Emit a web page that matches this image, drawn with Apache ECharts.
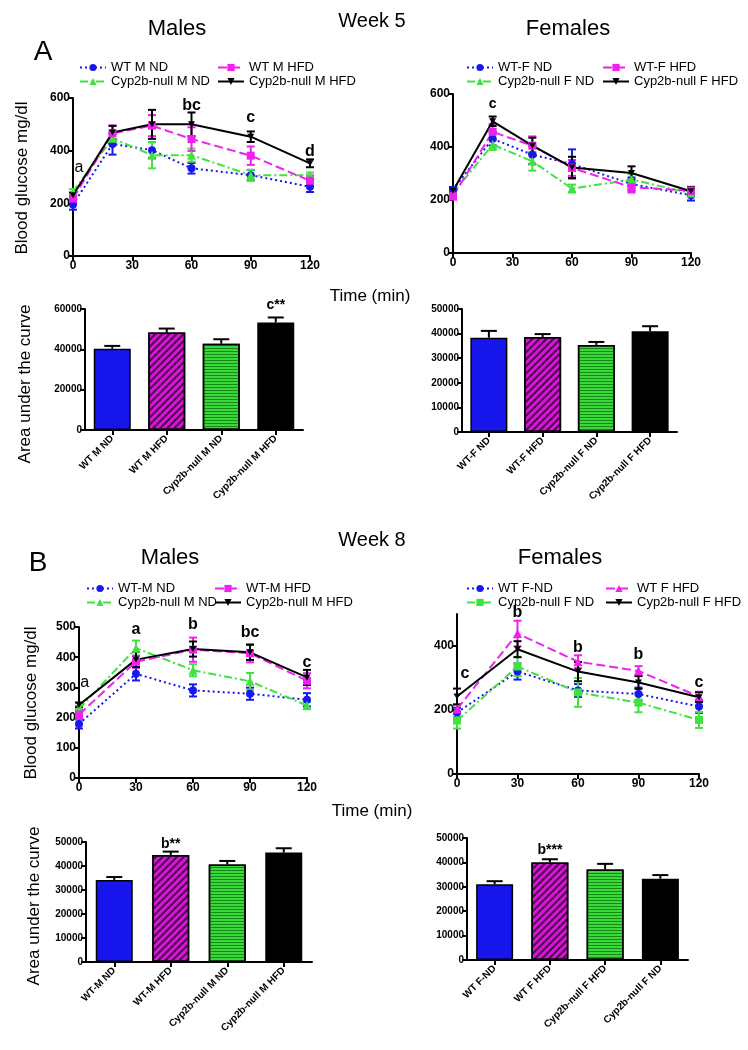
<!DOCTYPE html>
<html><head><meta charset="utf-8">
<script src="https://cdn.jsdelivr.net/npm/echarts@6/dist/echarts.min.js"></script>
<style>html,body{margin:0;padding:0;background:#fff}#c{width:748px;height:1050px}</style>
</head><body><div id="c"></div>
<script>
// ================= DATA =================
const timesW5 = [0, 20, 40, 60, 90, 120];
const timesW8 = [0, 30, 60, 90, 120];

// Week 5 males (legend labels)
const w5mLabels = ['WT M ND', 'Cyp2b-null M ND', 'WT M HFD', 'Cyp2b-null M HFD'];
const w5m_wtND = [196, 425, 402, 333, 307, 263];
const w5m_wtND_err = [20, 40, 30, 20, 20, 20];
const w5m_nullND = [244, 447, 383, 383, 307, 307];
const w5m_nullND_err = [10, 20, 50, 25, 20, 10];
const w5m_wtHFD = [218, 466, 495, 444, 381, 286];
const w5m_wtHFD_err = [15, 30, 40, 45, 35, 20];
const w5m_nullHFD = [231, 469, 500, 500, 453, 352];
const w5m_nullHFD_err = [10, 25, 55, 45, 20, 15];

// Week 5 females
const w5fLabels = ['WT-F ND', 'Cyp2b-null F ND', 'WT-F HFD', 'Cyp2b-null F HFD'];
const w5f_wtND = [239, 431, 371, 336, 260, 218];
const w5f_wtND_err = [10, 25, 35, 55, 25, 20];
const w5f_nullND = [226, 409, 346, 243, 277, 226];
const w5f_nullND_err = [10, 20, 35, 15, 20, 12];
const w5f_wtHFD = [214, 457, 405, 321, 248, 235];
const w5f_wtHFD_err = [12, 30, 35, 30, 20, 15];
const w5f_nullHFD = [235, 497, 405, 323, 302, 233];
const w5f_nullHFD_err = [10, 18, 30, 40, 25, 15];

// Week 8 males
const w8mLabels = ['WT-M ND', 'Cyp2b-null M ND', 'WT-M HFD', 'Cyp2b-null M HFD'];
const w8m_wtND = [179, 345, 290, 279, 259];
const w8m_wtND_err = [15, 22, 20, 20, 22];
const w8m_nullND = [229, 430, 357, 320, 240];
const w8m_nullND_err = [10, 25, 20, 28, 12];
const w8m_wtHFD = [210, 385, 425, 413, 322];
const w8m_wtHFD_err = [15, 20, 40, 30, 25];
const w8m_nullHFD = [242, 392, 427, 416, 333];
const w8m_nullHFD_err = [8, 25, 25, 25, 25];

// Week 8 females
const w8fLabels = ['WT F-ND', 'Cyp2b-null F ND', 'WT F HFD', 'Cyp2b-null F HFD'];
const w8f_wtND = [192, 320, 261, 250, 211];
const w8f_wtND_err = [15, 25, 20, 20, 20];
const w8f_nullND = [167, 336, 255, 223, 169];
const w8f_nullND_err = [25, 30, 45, 30, 25];
const w8f_wtHFD = [203, 439, 351, 322, 242];
const w8f_wtHFD_err = [15, 40, 20, 15, 15];
const w8f_nullHFD = [242, 390, 320, 286, 240];
const w8f_nullHFD_err = [25, 25, 30, 20, 15];

// Area under the curve
const aucW5mCats = ['WT M ND', 'WT M HFD', 'Cyp2b-null M ND', 'Cyp2b-null M HFD'];
const aucW5m = [40300, 48300, 42800, 53300];
const aucW5m_err = [1400, 2000, 2200, 2500];
const aucW5fCats = ['WT-F ND', 'WT-F HFD', 'Cyp2b-null F ND', 'Cyp2b-null F HFD'];
const aucW5f = [38300, 38600, 35400, 41000];
const aucW5f_err = [2800, 1200, 1200, 2000];
const aucW8mCats = ['WT-M ND', 'WT-M HFD', 'Cyp2b-null M ND', 'Cyp2b-null M HFD'];
const aucW8m = [34200, 44600, 40600, 45600];
const aucW8m_err = [1200, 1400, 1500, 1800];
const aucW8fCats = ['WT F-ND', 'WT F HFD', 'Cyp2b-null F HFD', 'Cyp2b-null F ND'];
const aucW8f = [31000, 40000, 37100, 33300];
const aucW8f_err = [1300, 1300, 2300, 1500];

// Significance letters: [x, y, text, bold]
const annW5m = [[3, 335, 'a', false], [60, 571, 'bc', true], [90, 525, 'c', true], [120, 396, 'd', true]];
const annW5f = [[20, 563, 'c', true]];
const annW8m = [[3, 315, 'a', false], [30, 491, 'a', true], [60, 508, 'b', true], [90, 481, 'bc', true], [120, 381, 'c', true]];
const annW8f = [[4, 313, 'c', true], [30, 504, 'b', true], [60, 395, 'b', true], [90, 373, 'b', true], [120, 285, 'c', true]];
const annAucW5m = [[3, 62000, 'c**', true]];
const annAucW8m = [[1, 49200, 'b**', true]];
const annAucW8f = [[1, 44900, 'b***', true]];

// ================= STYLE =================
const FF = '"Liberation Sans", Arial, sans-serif';
const BLUE = '#1818ee', GREEN = '#3fe23f', MAG = '#ee22ee', BLK = '#000000';
const INV_TRI = 'path://M0,0 L10,0 L5,9 Z';

const grids = [
  {left: 73, top: 98, width: 237, height: 158},   // 0 W5 M line
  {left: 453, top: 94, width: 238, height: 159},  // 1 W5 F line
  {left: 85, top: 309, width: 218, height: 121},  // 2 W5 M bar
  {left: 462, top: 309, width: 215, height: 123}, // 3 W5 F bar
  {left: 79, top: 627, width: 228, height: 151},  // 4 W8 M line
  {left: 457, top: 614, width: 242, height: 160}, // 5 W8 F line
  {left: 86, top: 842, width: 226, height: 120},  // 6 W8 M bar
  {left: 467, top: 838, width: 221, height: 122}  // 7 W8 F bar
];

const axisLineS = {show: true, onZero: false, lineStyle: {color: '#000', width: 2}};
const axisTickS = {show: true, length: 5, lineStyle: {color: '#000', width: 2}};

function valueX(gi) {
  return {type: 'value', gridIndex: gi, min: 0, max: 120, interval: 30,
    axisLine: axisLineS, axisTick: axisTickS, splitLine: {show: false},
    axisLabel: {fontFamily: FF, fontWeight: 'bold', fontSize: 12, color: '#000', margin: 4}};
}
function valueY(gi, max, interval, fs, custom) {
  const a = {type: 'value', gridIndex: gi, min: 0, max: max, interval: interval,
    axisLine: axisLineS, axisTick: Object.assign({}, axisTickS), splitLine: {show: false},
    axisLabel: {fontFamily: FF, fontWeight: 'bold', fontSize: fs, color: '#000', margin: 3, formatter: v => String(v)}};
  if (custom) { a.axisLabel.customValues = custom; a.axisTick.customValues = custom; }
  return a;
}
function catX(gi, cats) {
  return {type: 'category', gridIndex: gi, data: cats,
    axisLine: axisLineS, axisTick: Object.assign({alignWithLabel: true}, axisTickS),
    axisLabel: {fontFamily: FF, fontWeight: 'bold', fontSize: 10, color: '#000', rotate: 45, interval: 0, margin: 7}};
}

const series = [];

function errSeries(gi, pts, cap, upOnly) {
  series.push({
    type: 'custom', name: 'err' + gi + '_' + series.length, xAxisIndex: gi, yAxisIndex: gi,
    data: pts.map(p => [p[0], p[1], p[2]]), z: 3, silent: true,
    renderItem: (params, api) => {
      const x = api.value(0), v = api.value(1), e = api.value(2);
      const lo = api.coord([x, upOnly ? v : v - e]);
      const hi = api.coord([x, v + e]);
      const col = pts[params.dataIndex][3];
      const st = {stroke: col, lineWidth: 2};
      const ch = [{type: 'line', shape: {x1: hi[0], y1: lo[1], x2: hi[0], y2: hi[1]}, style: st},
                  {type: 'line', shape: {x1: hi[0] - cap, y1: hi[1], x2: hi[0] + cap, y2: hi[1]}, style: st}];
      if (!upOnly) ch.push({type: 'line', shape: {x1: lo[0] - cap, y1: lo[1], x2: lo[0] + cap, y2: lo[1]}, style: st});
      return {type: 'group', children: ch};
    }
  });
}

function lineGroup(gi, prefix, times, groups) {
  groups.forEach(g => {
    series.push({
      type: 'line', name: prefix + '|' + g.label, xAxisIndex: gi, yAxisIndex: gi,
      data: times.map((t, i) => [t, g.data[i]]),
      symbol: g.symbol, symbolSize: g.size, showSymbol: true,
      lineStyle: {color: g.color, width: 2, type: g.dash},
      itemStyle: {color: g.color}, z: 4, animation: false
    });
    errSeries(gi, times.map((t, i) => [t, g.data[i], g.err[i], g.color]), 4, false);
  });
}

function annSeries(gi, ann, size) {
  series.push({
    type: 'custom', name: 'ann' + gi, xAxisIndex: gi, yAxisIndex: gi, z: 6, silent: true,
    data: ann.map(a => [a[0], a[1]]),
    renderItem: (params, api) => {
      const p = api.coord([api.value(0), api.value(1)]);
      const a = ann[params.dataIndex];
      return {type: 'text', x: p[0], y: p[1], style: {
        text: a[2], fill: '#000', font: (a[3] ? 'bold ' : '') + size + 'px ' + FF,
        textAlign: 'center', textVerticalAlign: 'middle', align: 'center', verticalAlign: 'middle'}};
    }
  });
}

const barLook = [
  {color: '#1616ec'},
  {color: '#d814d8', decal: {symbol: 'rect', symbolSize: 1, color: '#4a064a', dashArrayX: [1, 0], dashArrayY: [2, 3], rotation: -Math.PI / 4}},
  {color: '#3ad83a', decal: {symbol: 'rect', symbolSize: 1, color: '#168a16', dashArrayX: [1, 0], dashArrayY: [1, 2], rotation: 0}},
  {color: '#000000'}
];

function barGroup(gi, vals, errs) {
  series.push({
    type: 'bar', name: 'bar' + gi, xAxisIndex: gi, yAxisIndex: gi, barWidth: 37, z: 2,
    data: vals.map((v, i) => ({value: v, itemStyle: Object.assign({borderColor: '#000', borderWidth: 1.5}, barLook[i])})),
    animation: false
  });
  errSeries(gi, vals.map((v, i) => [i, v, errs[i], '#000']), 8, true);
}

// line charts
function style4(labels, d, sym) {
  return [
    {label: labels[0], data: d[0], err: d[1], color: BLUE, dash: [2, 3], symbol: 'circle', size: 8},
    {label: labels[1], data: d[2], err: d[3], color: GREEN, dash: [8, 3, 2, 3], symbol: sym[0], size: sym[0] === 'rect' ? 8 : 9},
    {label: labels[2], data: d[4], err: d[5], color: MAG, dash: [9, 4], symbol: sym[1], size: sym[1] === 'rect' ? 8 : 9},
    {label: labels[3], data: d[6], err: d[7], color: BLK, dash: 'solid', symbol: INV_TRI, size: [7, 6]}
  ];
}
lineGroup(0, 'W5M', timesW5, style4(w5mLabels, [w5m_wtND, w5m_wtND_err, w5m_nullND, w5m_nullND_err, w5m_wtHFD, w5m_wtHFD_err, w5m_nullHFD, w5m_nullHFD_err], ['triangle', 'rect']));
lineGroup(1, 'W5F', timesW5, style4(w5fLabels, [w5f_wtND, w5f_wtND_err, w5f_nullND, w5f_nullND_err, w5f_wtHFD, w5f_wtHFD_err, w5f_nullHFD, w5f_nullHFD_err], ['triangle', 'rect']));
lineGroup(4, 'W8M', timesW8, style4(w8mLabels, [w8m_wtND, w8m_wtND_err, w8m_nullND, w8m_nullND_err, w8m_wtHFD, w8m_wtHFD_err, w8m_nullHFD, w8m_nullHFD_err], ['triangle', 'rect']));
lineGroup(5, 'W8F', timesW8, style4(w8fLabels, [w8f_wtND, w8f_wtND_err, w8f_nullND, w8f_nullND_err, w8f_wtHFD, w8f_wtHFD_err, w8f_nullHFD, w8f_nullHFD_err], ['rect', 'triangle']));

barGroup(2, aucW5m, aucW5m_err);
barGroup(3, aucW5f, aucW5f_err);
barGroup(6, aucW8m, aucW8m_err);
barGroup(7, aucW8f, aucW8f_err);

annSeries(0, annW5m, 16);
annSeries(1, annW5f, 14);
annSeries(4, annW8m, 16);
annSeries(5, annW8f, 16);
annSeries(2, annAucW5m, 14);
annSeries(6, annAucW8m, 14);
annSeries(7, annAucW8f, 14);

function legend(left, top, prefix, labels) {
  return {left: left, top: top, orient: 'vertical', itemGap: 1, itemWidth: 26, itemHeight: 9,
    selectedMode: false, data: labels.map(l => prefix + '|' + l),
    formatter: n => n.split('|')[1],
    textStyle: {fontFamily: FF, fontSize: 13, color: '#000', lineHeight: 12}};
}

function txt(x, y, s, size, rot) {
  return {type: 'text', x: x, y: y, rotation: rot || 0, silent: true, style: {
    text: s, fill: '#000', font: size + 'px ' + FF,
    textAlign: 'center', textVerticalAlign: 'middle', align: 'center', verticalAlign: 'middle'}};
}

const option = {
  animation: false,
  backgroundColor: '#fff',
  grid: grids,
  xAxis: [valueX(0), valueX(1), catX(2, aucW5mCats), catX(3, aucW5fCats), valueX(4), valueX(5), catX(6, aucW8mCats), catX(7, aucW8fCats)],
  yAxis: [valueY(0, 600, 200, 12), valueY(1, 600, 200, 12), valueY(2, 60000, 20000, 10), valueY(3, 50000, 10000, 10),
          valueY(4, 500, 100, 12), valueY(5, 500, 100, 12, [0, 200, 400]), valueY(6, 50000, 10000, 10), valueY(7, 50000, 10000, 10)],
  legend: [
    legend(74, 56, 'W5M', [w5mLabels[0], w5mLabels[1]]), legend(212, 56, 'W5M', [w5mLabels[2], w5mLabels[3]]),
    legend(461, 56, 'W5F', [w5fLabels[0], w5fLabels[1]]), legend(597, 56, 'W5F', [w5fLabels[2], w5fLabels[3]]),
    legend(81, 577, 'W8M', [w8mLabels[0], w8mLabels[1]]), legend(209, 577, 'W8M', [w8mLabels[2], w8mLabels[3]]),
    legend(461, 577, 'W8F', [w8fLabels[0], w8fLabels[1]]), legend(600, 577, 'W8F', [w8fLabels[2], w8fLabels[3]])
  ],
  graphic: [
    txt(372, 21, 'Week 5', 20), txt(177, 29, 'Males', 22), txt(568, 29, 'Females', 22), txt(43, 52, 'A', 28),
    txt(372, 540, 'Week 8', 20), txt(170, 558, 'Males', 22), txt(560, 558, 'Females', 22), txt(38, 563, 'B', 28),
    txt(370, 296, 'Time (min)', 17), txt(372, 811, 'Time (min)', 17),
    txt(22, 178, 'Blood glucose mg/dl', 17, Math.PI / 2), txt(31, 703, 'Blood glucose mg/dl', 17, Math.PI / 2),
    txt(25, 384, 'Area under the curve', 17, Math.PI / 2), txt(34, 906, 'Area under the curve', 17, Math.PI / 2)
  ],
  series: series
};

const chart = echarts.init(document.getElementById('c'), null, {renderer: 'canvas'});
chart.setOption(option);
</script></body></html>
